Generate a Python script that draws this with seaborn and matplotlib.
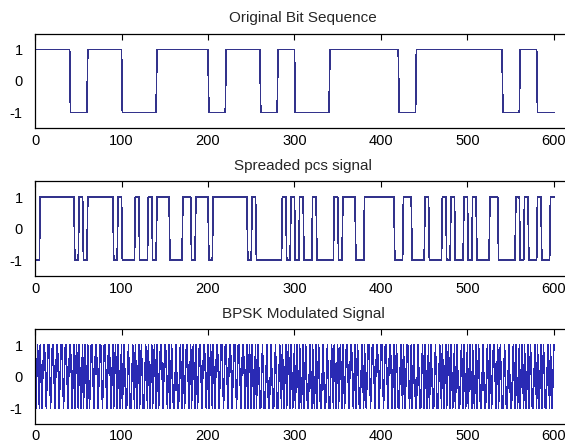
import numpy as np
import pandas as pd
import seaborn as sns
import matplotlib
matplotlib.use("Agg")
import matplotlib.pyplot as plt

sns.set_style("white")
plt.rcParams['font.family'] = ['Liberation Sans', 'DejaVu Sans']
plt.rcParams['axes.unicode_minus'] = False

# data bits (+1/-1), 20 samples each
bits = [1, 1, -1, 1, 1, -1, -1, 1, 1, 1,
        -1, 1, 1, -1, 1, -1, -1, 1, 1, 1,
        1, -1, 1, 1, 1, 1, 1, -1, 1, -1]

# spreaded signal read per chip (bit * pn), 5 samples each
spread_chips = [-1, 1, 1, 1, 1, 1, 1, 1, 1, -1, 1, -1, 1, 1, 1, 1, 1, 1, -1, 1,
                -1, -1, -1, 1, -1, -1, 1, -1, 1, 1, 1, -1, -1, -1, 1, 1, -1, 1, 1, 1,
                -1, 1, 1, 1, 1, 1, 1, 1, 1, -1, 1, -1, -1, -1, -1, -1, -1, 1, -1, 1,
                -1, 1, -1, -1, 1, -1, -1, -1, -1, 1, -1, 1, 1, 1, -1, -1, 1, 1, 1, 1,
                1, 1, 1, -1, -1, 1, 1, -1, -1, -1, 1, -1, -1, -1, 1, -1, 1, -1, -1, 1,
                -1, 1, -1, -1, -1, 1, 1, -1, -1, -1, -1, 1, -1, 1, -1, -1, 1, -1, -1, 1]

# one carrier period as sampled: cos(0:pi/2:2*pi)
carrier = [1, 0, -1, 0, 1]

titles = ["Original Bit Sequence", "Spreaded pcs signal", "BPSK Modulated Signal"]
samples_per_bit = 20
samples_per_chip = 5

pattern = np.repeat(bits, samples_per_bit)
spreaded = np.repeat(spread_chips, samples_per_chip)
bpsk = spreaded * np.tile(carrier, len(spread_chips))

df = pd.DataFrame({"n": np.arange(1, len(pattern) + 1),
                   "pattern": pattern, "spreaded": spreaded, "bpsk": bpsk})

fig = plt.figure(figsize=(5.65, 4.48), dpi=100)
bottoms = [0.714, 0.384, 0.054]
line_colors = ["#33338c", "#33338c", "#2a2ab4"]
line_widths = [0.5, 0.5, 0.35]

for col, title, bottom, c, lw in zip(["pattern", "spreaded", "bpsk"], titles, bottoms,
                                     line_colors, line_widths):
    ax = fig.add_axes([0.062, bottom, 0.949, 0.211])
    sns.lineplot(data=df, x="n", y=col, ax=ax, color=c, linewidth=lw,
                 estimator=None, sort=False, antialiased=False)
    ax.set_xlim(0, 620)
    ax.set_ylim(-1.5, 1.5)
    ax.set_xticks(range(0, 601, 100))
    ax.set_yticks([-1, 0, 1])
    ax.set_xlabel("")
    ax.set_ylabel("")
    ax.set_title(title, fontsize=11, pad=8)
    ax.tick_params(direction="in", top=True, right=True, length=4, width=0.8,
                   labelsize=10.5, colors="black")
    ax.tick_params(axis="y", pad=9)
    ax.tick_params(axis="x", pad=4)
    for s in ax.spines.values():
        s.set_color("black")
        s.set_linewidth(0.9)

fig.savefig("out.png", dpi=100)
